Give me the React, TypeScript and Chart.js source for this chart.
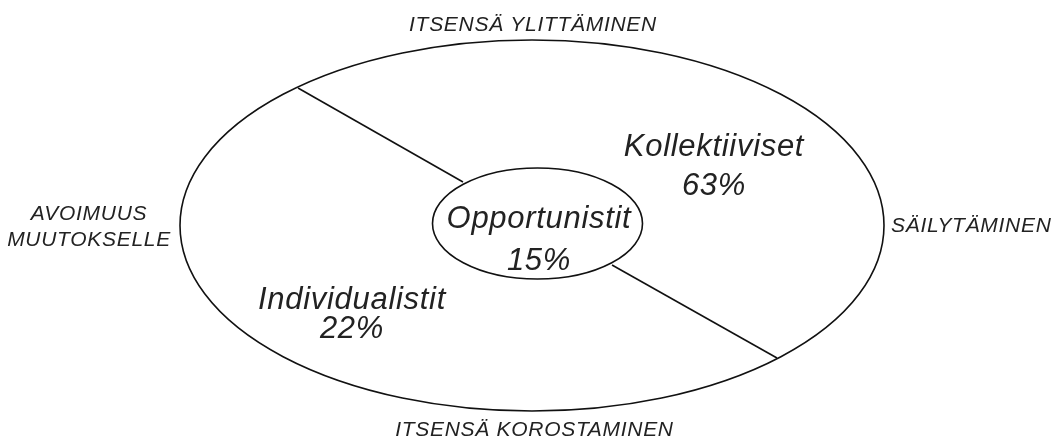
import { useEffect, useRef } from "react";
import { Chart, registerables } from "chart.js";

Chart.register(...registerables);

// ---- data ----
const segmentNames = ["Kollektiiviset", "Individualistit", "Opportunistit"];
const segmentShares = [63, 22, 15];
const dimensionTop = "ITSENSÄ YLITTÄMINEN";
const dimensionRight = "SÄILYTÄMINEN";
const dimensionBottom = "ITSENSÄ KOROSTAMINEN";
const dimensionLeft = ["AVOIMUUS", "MUUTOKSELLE"];

// ---- diagram geometry (data units) ----
const outerEllipse = { cx: 532, cy: 225.5, rx: 352, ry: 185.5 };
const innerEllipse = { cx: 537.5, cy: 223.5, rx: 105, ry: 55.5 };
const dividerUpperX = [298, 463];
const dividerUpperY = [88, 182];
const dividerLowerX = [612, 777];
const dividerLowerY = [265, 358];

const segmentLabelX = [714, 352, 539];
const segmentNameY = [156, 309, 228];
const segmentShareY = [195, 338, 270];

const FONT = '"Liberation Sans", Arial, sans-serif';

const diagramPlugin = {
  id: "diagram",
  afterDatasetsDraw(chart: any) {
    const { ctx, scales } = chart;
    const xs = scales.x;
    const ys = scales.y;
    const px = (v: number) => xs.getPixelForValue(v);
    const py = (v: number) => ys.getPixelForValue(v);
    ctx.save();
    ctx.strokeStyle = "#111";
    ctx.lineWidth = 1.6;
    for (const e of [outerEllipse, innerEllipse]) {
      const cx = px(e.cx);
      const cy = py(e.cy);
      const rx = Math.abs(px(e.cx + e.rx) - cx);
      const ry = Math.abs(py(e.cy + e.ry) - cy);
      ctx.beginPath();
      ctx.ellipse(cx, cy, rx, ry, 0, 0, Math.PI * 2);
      ctx.stroke();
    }
    ctx.fillStyle = "#222";
    ctx.textBaseline = "alphabetic";
    const text = (s: string, x: number, y: number, align: "center" | "left") => {
      const w = ctx.measureText(s).width;
      const sx = align === "center" ? px(x) - w / 2 : px(x);
      ctx.textAlign = "left";
      ctx.fillText(s, sx, py(y));
    };
    // segment labels
    ctx.font = `italic 31px ${FONT}`;
    ctx.letterSpacing = "0.7px";
    segmentNames.forEach((name, i) => {
      text(name, segmentLabelX[i], segmentNameY[i], "center");
      text(`${segmentShares[i]}%`, segmentLabelX[i], segmentShareY[i], "center");
    });
    // dimension labels
    ctx.font = `italic 21px ${FONT}`;
    ctx.letterSpacing = "0.7px";
    text(dimensionTop, 533, 30.5, "center");
    text(dimensionBottom, 534.5, 436, "center");
    text(dimensionLeft[0], 89, 219.5, "center");
    text(dimensionLeft[1], 89, 246, "center");
    text(dimensionRight, 891, 232, "left");
    ctx.restore();
  },
};

export default function App() {
  const canvasRef = useRef<HTMLCanvasElement | null>(null);
  useEffect(() => {
    if (!canvasRef.current) return;
    const toPts = (xsArr: number[], ysArr: number[]) => xsArr.map((x, i) => ({ x, y: ysArr[i] }));
    const lineStyle = {
      showLine: true,
      borderColor: "#111",
      borderWidth: 1.6,
      pointRadius: 0,
      fill: false,
    };
    const chart = new Chart(canvasRef.current, {
      type: "scatter",
      data: {
        datasets: [
          { label: "upper", data: toPts(dividerUpperX, dividerUpperY), ...lineStyle },
          { label: "lower", data: toPts(dividerLowerX, dividerLowerY), ...lineStyle },
        ],
      },
      options: {
        animation: false,
        responsive: false,
        devicePixelRatio: 1,
        layout: { padding: 0 },
        plugins: { legend: { display: false }, tooltip: { enabled: false } },
        scales: {
          x: { type: "linear", min: 0, max: 1058, display: false },
          y: { type: "linear", min: 0, max: 439, reverse: true, display: false },
        },
      },
      plugins: [diagramPlugin],
    } as any);
    return () => chart.destroy();
  }, []);
  return (
    <div style={{ position: "fixed", left: 0, top: 0, width: 1058, height: 439, background: "#fff" }}>
      <canvas ref={canvasRef} width={1058} height={439} />
    </div>
  );
}
